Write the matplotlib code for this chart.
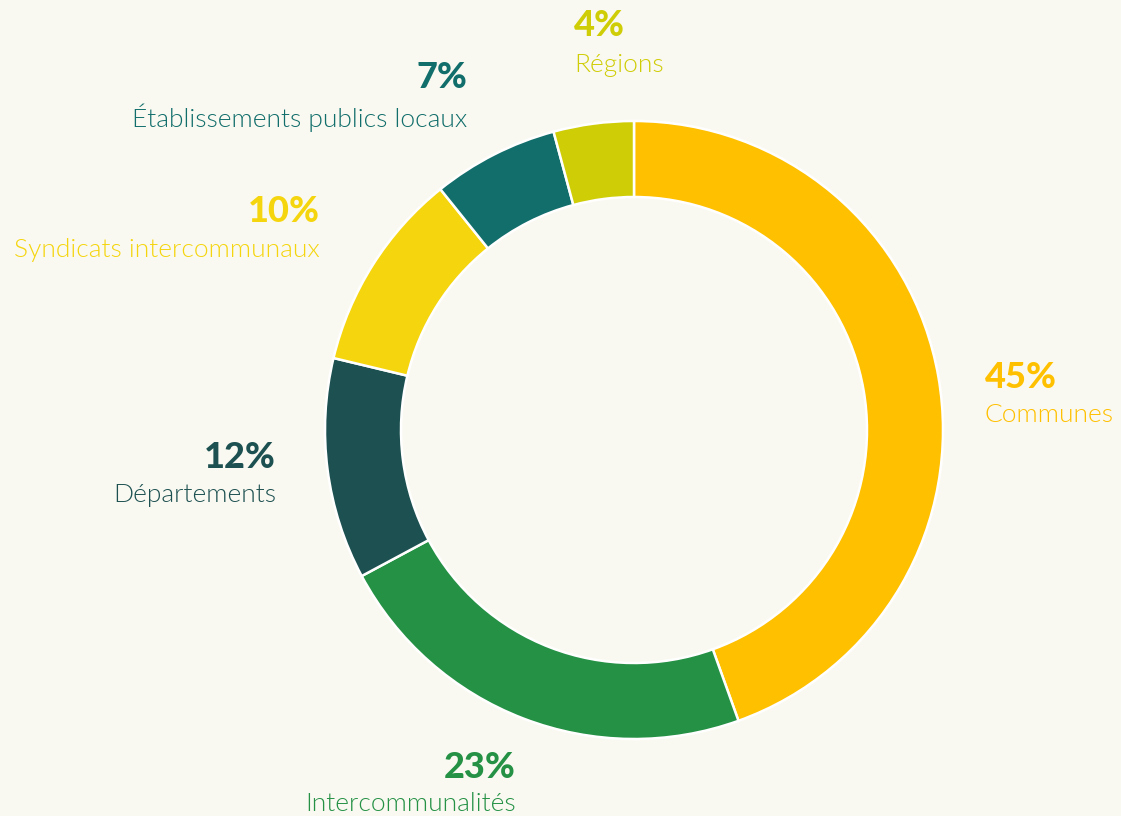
import matplotlib
matplotlib.use("Agg")
import matplotlib.pyplot as plt

categories = ["Communes", "Intercommunalités", "Départements",
              "Syndicats intercommunaux", "Établissements publics locaux", "Régions"]
shares = [44.6, 22.7, 11.6, 10.5, 6.6, 4.2]
pct_labels = ["45%", "23%", "12%", "10%", "7%", "4%"]
colors = ["#FFC000", "#249145", "#1D5151", "#F5D50E", "#116E6B", "#CFCD06"]

BG = "#FAF9F1"
W, H = 1121, 816

fig = plt.figure(figsize=(W / 100, H / 100), dpi=100, facecolor=BG)
ax = fig.add_axes([0, 0, 1, 1])
ax.set_facecolor(BG)

cx, cy, R = 634, H - 430, 309
ax.pie(shares, radius=R, center=(cx, cy), startangle=90, counterclock=False,
       colors=colors, frame=True,
       wedgeprops=dict(width=76, edgecolor="white", linewidth=1.8))
ax.set_xlim(0, W)
ax.set_ylim(0, H)
ax.set_aspect("equal")
ax.axis("off")

# label layout: (x, y of percentage, y of name, alignment) in pixel coords
layout = [
    (985, 377, 415, "left"),
    (516, 768, 804, "right"),
    (276, 457, 495, "right"),
    (320, 212, 250, "right"),
    (467, 78, 118, "right"),
    (574, 26, 65, "left"),
]

for cat, pct, col, (x, yp, yn, ha) in zip(categories, pct_labels, colors, layout):
    ax.text(x, H - yp, pct, color=col, fontsize=26, fontweight="black",
            family=["Lato", "DejaVu Sans"], ha=ha, va="center")
    ax.text(x, H - yn, cat, color=col, fontsize=19, fontweight=300,
            family=["Lato", "DejaVu Sans"], ha=ha, va="center")

fig.savefig("out.png", dpi=100, facecolor=BG)
